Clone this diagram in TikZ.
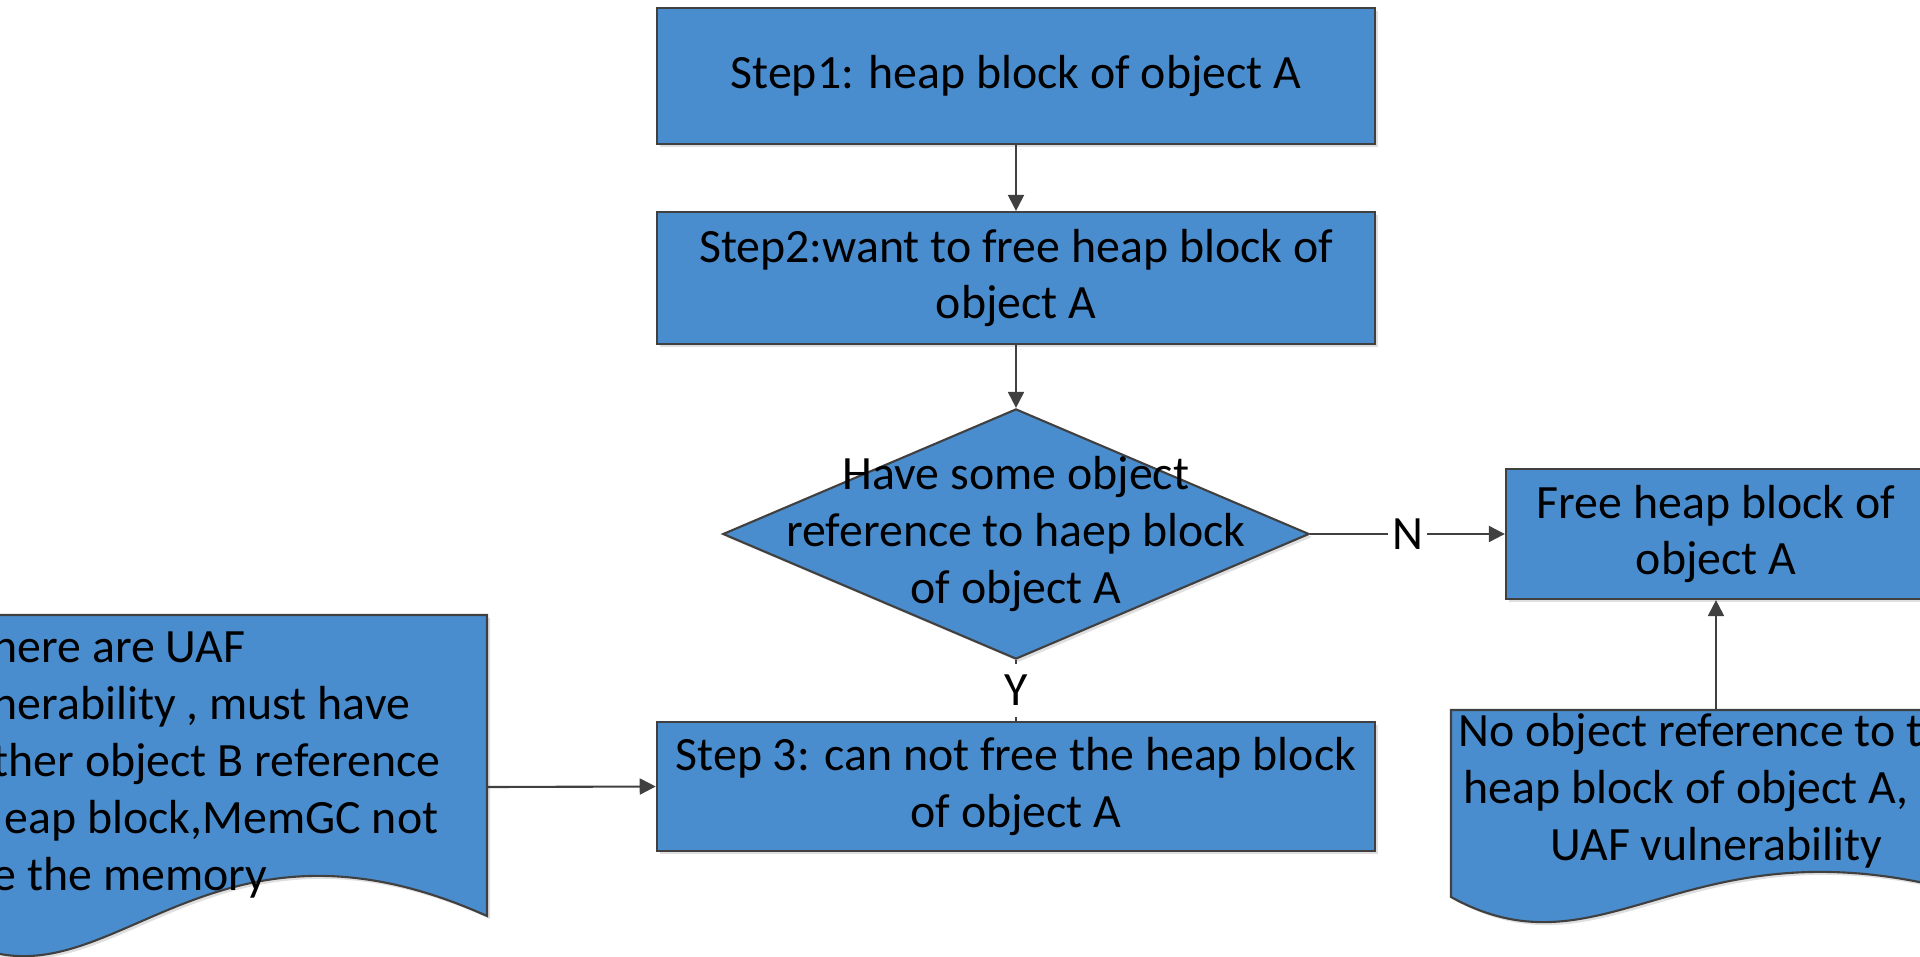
\documentclass[tikz,border=0pt]{standalone}
\usepackage{fontspec}
\setmainfont{Carlito}
\usetikzlibrary{arrows.meta,shapes.geometric,shadows}
\definecolor{kek}{RGB}{74,141,206}
\definecolor{vonal}{RGB}{64,64,64}
\tikzset{
  arny/.style={drop shadow={shadow xshift=0.03cm,shadow yshift=-0.03cm,opacity=0.25}},
  blk/.style={draw=vonal,fill=kek,line width=0.6pt,minimum width=7.18cm,align=center,arny},
  dont/.style={diamond,draw=vonal,fill=kek,line width=0.6pt,inner sep=0pt,
    minimum width=5.86cm,minimum height=2.5cm,arny},
  dok/.style={draw=vonal,fill=kek,line width=0.6pt,arny},
  nyil/.style={draw=vonal,line width=0.6pt,-{Triangle[length=0.16cm,width=0.16cm]}},
  cim/.style={fill=white,inner xsep=0.04cm,inner ysep=0.115cm},
  szov/.style={inner sep=0pt,align=left,anchor=west},
}
\begin{document}
\begin{tikzpicture}[x=0.01cm,y=-0.01cm,font=\fontsize{13.6pt}{16.2pt}\selectfont]
  \useasboundingbox (0,0) rectangle (1920,957);
  \clip (0,0) rectangle (1920,957);
  % main column
  \node[blk,minimum height=1.36cm] (s1) at (1016,76) {Step1: heap block of object A};
  \node[blk,minimum height=1.32cm] (s2) at (1016,278) {Step2:want to free heap block of\\object A};
  \node[dont] (d) at (1016,534) {};
  \node[align=center] (dt) at (d) {Have some object\\reference to haep block\\of object A};
  \node[blk,minimum height=1.29cm] (s3) at (1016,786.5) {Step 3: can not free the heap block\\of object A};
  \node[blk,minimum width=4.2cm,minimum height=1.3cm] (fr) at (1716,534) {Free heap block of\\object A};
  % documents
  \path[dok] (-75,615) -- (487,615) -- (487,916)
    .. controls (178,777) and (94,1055) .. (-75,916) -- cycle;
  \path[dok] (1451,710) -- (1979,710) -- (1979,897)
    .. controls (1689,810) and (1609,984) .. (1451,897) -- cycle;
  \node[szov] (bt) at (-8,764) {here are UAF\\nerability , must have\\ther object B reference\\\hspace*{0.12cm}eap block,MemGC not\\e the memory};
  \node[szov] (jt) at (1458,791) {No object reference to t\\\hspace*{0.05cm}heap block of object A,\\\hspace*{0.92cm}UAF vulnerability};
  \coordinate (bal) at (487,787);
  \coordinate (jobb) at (1716,710);
  % connectors
  \foreach \a/\b in {s1/s2,s2/d} \draw[nyil] (\a) -- (\b);
  \draw[draw=vonal,line width=0.6pt] (d.south) -- node[cim] {Y} (s3.north);
  \draw[nyil] (d.east) -- node[cim] {N} (fr.west);
  \draw[nyil] (bal) -- (s3.west);
  \draw[nyil] (jobb) -- (fr.south);
\end{tikzpicture}
\end{document}
